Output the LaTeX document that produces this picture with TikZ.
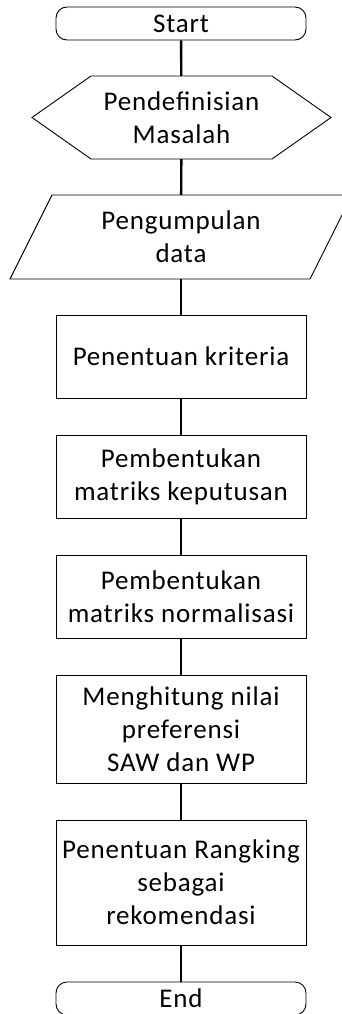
\documentclass[tikz,border=0pt]{standalone}
\usepackage{fontspec}
\setmainfont{Carlito}[LetterSpace=3]
\begin{document}
\begin{tikzpicture}[x=1pt,y=1pt,
  lbl/.style={font=\fontsize{27}{33}\selectfont, align=center, inner sep=0pt},
  term/.style={lbl, draw, line width=0.9pt, rounded corners=11pt, minimum width=250pt, minimum height=33pt},
  proc/.style={lbl, draw, line width=0.9pt, minimum width=250pt},
  ghost/.style={lbl},
  shp/.style={line width=0.9pt},
  conn/.style={line width=2.4pt}]
\clip (0,0) rectangle (342,-1014);
\useasboundingbox (0,0) rectangle (342,-1014);
% Start
\node[term] (start) at (181,-23.5) {Start};
% Hexagon
\draw[shp] (32,-117.5) -- (91,-76) -- (272,-76) -- (331,-117.5) -- (272,-159) -- (91,-159) -- cycle;
\node[ghost, minimum width=181pt, minimum height=83pt] (hex) at (181.5,-117.5) {Pendefinisian\\Masalah};
% Parallelogram
\draw[shp] (52,-195) -- (352,-195) -- (310,-279) -- (10,-279) -- cycle;
\node[ghost, minimum width=258pt, minimum height=84pt] (data) at (181,-237) {Pengumpulan\\data};
% Processes
\node[proc, minimum height=83pt] (krit) at (181,-356.5) {Penentuan kriteria};
\node[proc, minimum height=83pt] (kep) at (181,-476.5) {Pembentukan\\matriks keputusan};
\node[proc, minimum height=83pt] (norm) at (181,-596.5) {Pembentukan\\matriks normalisasi};
\node[proc, minimum height=108pt] (pref) at (181,-729) {Menghitung nilai\\preferensi\\SAW dan WP};
\node[proc, minimum height=125pt] (rank) at (181,-882.5) {Penentuan Rangking\\sebagai\\rekomendasi};
% End
\node[term] (end) at (181,-998.5) {End};
% Connectors
\draw[conn] (start) -- (hex);
\draw[conn] (hex) -- (data);
\draw[conn] (data) -- (krit);
\draw[conn] (krit) -- (kep);
\draw[conn] (kep) -- (norm);
\draw[conn] (norm) -- (pref);
\draw[conn] (pref) -- (rank);
\draw[conn] (rank) -- (end);
\end{tikzpicture}
\end{document}
